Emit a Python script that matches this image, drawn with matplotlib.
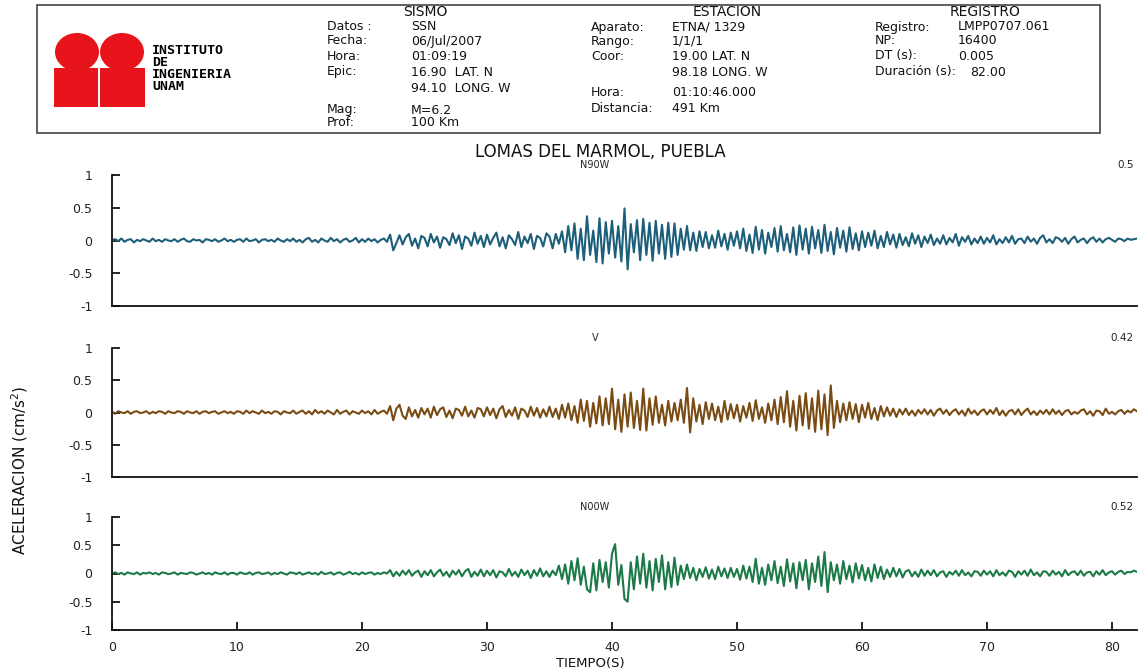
import numpy as np
import matplotlib.pyplot as plt
from matplotlib.patches import Rectangle, Ellipse

W, H = 1138, 670
fig = plt.figure(figsize=(W / 100, H / 100), dpi=100)
fig.patch.set_facecolor('white')
plt.rcParams['font.family'] = ['DejaVu Sans']

# --- data: acceleration every 0.25 s (cm/s2) ---
DT = 0.25
acc_n90w = [
    0.00, 0.02, -0.01, 0.03, -0.02, 0.01, 0.02, -0.03, 0.01, -0.01, 0.02, 0.00, -0.02, 0.03, -0.01, 0.01, -0.02, 0.02, 0.00, -0.01,
    0.02, -0.02, 0.01, 0.03, -0.01, -0.02, 0.02, 0.00, 0.01, -0.03, 0.02, 0.01, -0.01, 0.02, -0.02, 0.00, 0.03, -0.01, 0.01, -0.02,
    0.01, 0.02, -0.02, 0.03, -0.01, 0.00, 0.02, -0.03, 0.01, 0.02, -0.01, 0.01, -0.02, 0.03, 0.00, -0.02, 0.02, -0.01, 0.03, -0.02,
    0.01, -0.03, 0.02, 0.04, -0.02, 0.01, -0.03, 0.03, 0.00, -0.02, 0.04, -0.01, 0.02, -0.03, 0.01, 0.03, -0.02, 0.00, 0.04, -0.03,
    0.02, -0.02, 0.03, -0.01, 0.02, -0.03, 0.01, 0.03, -0.02, 0.09, -0.15, -0.04, 0.08, -0.06, 0.05, 0.10, -0.08, 0.03, -0.12, 0.07,
    0.04, -0.09, 0.10, -0.03, 0.06, -0.11, 0.05, 0.02, -0.07, 0.11, -0.04, 0.08, -0.13, 0.06, 0.03, -0.08, 0.12, -0.05, 0.07, -0.10,
    0.09, -0.06, 0.04, 0.12, -0.09, 0.05, -0.12, 0.08, 0.02, -0.07, 0.13, -0.10, 0.06, -0.04, 0.10, -0.13, 0.07, 0.04, -0.09, 0.11,
    0.06, -0.12, 0.10, -0.05, 0.14, -0.18, 0.22, -0.15, 0.26, -0.28, 0.18, -0.30, 0.37, -0.22, 0.15, -0.33, 0.34, -0.35, 0.28, -0.20,
    0.30, -0.26, 0.22, -0.32, 0.49, -0.44, 0.25, -0.18, 0.31, -0.30, 0.33, -0.22, 0.27, -0.31, 0.30, -0.20, 0.24, -0.28, 0.27, -0.25,
    0.26, -0.22, 0.18, -0.14, 0.22, -0.15, 0.12, -0.16, 0.14, -0.10, 0.13, -0.12, 0.08, -0.11, 0.15, -0.09, 0.10, -0.14, 0.12, -0.08,
    0.14, -0.12, 0.18, -0.16, 0.09, -0.19, 0.21, -0.14, 0.16, -0.20, 0.12, -0.10, 0.19, -0.17, 0.22, -0.15, 0.10, -0.18, 0.20, -0.22,
    0.23, -0.14, 0.18, -0.20, 0.21, -0.12, 0.16, -0.19, 0.24, -0.16, 0.13, -0.21, 0.19, -0.11, 0.15, -0.17, 0.20, -0.13, 0.11, -0.15,
    0.14, -0.10, 0.12, -0.08, 0.15, -0.12, 0.07, -0.10, 0.13, -0.06, 0.09, -0.11, 0.10, -0.07, 0.05, -0.09, 0.11, -0.05, 0.08, -0.10,
    0.06, -0.04, 0.09, -0.07, 0.03, -0.05, 0.08, -0.06, 0.04, -0.03, 0.10, -0.08, 0.05, -0.02, 0.07, -0.06, 0.03, -0.04, 0.06, -0.05,
    0.04, -0.03, 0.08, -0.06, 0.02, -0.04, 0.05, -0.03, 0.07, -0.05, 0.02, 0.03, -0.04, 0.06, -0.02, 0.03, -0.05, 0.04, 0.08, -0.03,
    0.02, -0.04, 0.05, 0.03, -0.02, 0.04, -0.05, 0.02, 0.06, -0.03, 0.01, 0.03, -0.04, 0.02, 0.05, -0.02, 0.03, -0.03, 0.02, 0.04,
    0.01, -0.02, 0.03, 0.02, -0.01, 0.03, 0.01, 0.02, 0.03,
]
acc_v = [
    0.01, -0.02, 0.02, 0.00, -0.01, 0.02, -0.02, 0.01, 0.02, -0.01, 0.00, 0.02, -0.02, 0.01, -0.01, 0.02, 0.01, -0.02, 0.02, 0.00,
    -0.01, 0.02, 0.01, -0.02, 0.02, 0.00, -0.01, 0.02, -0.02, 0.01, 0.02, -0.01, 0.01, 0.02, -0.02, 0.00, 0.02, -0.01, 0.01, -0.02,
    0.02, 0.01, -0.02, 0.03, -0.01, 0.02, 0.00, -0.02, 0.03, -0.01, 0.01, -0.02, 0.02, 0.01, -0.03, 0.02, 0.00, -0.01, 0.03, -0.02,
    0.01, 0.03, -0.02, 0.02, -0.03, 0.04, -0.01, 0.02, -0.02, 0.03, 0.00, -0.03, 0.04, -0.02, 0.01, 0.03, -0.03, 0.02, 0.00, -0.02,
    0.03, -0.01, 0.02, -0.03, 0.04, -0.02, 0.01, 0.03, -0.02, 0.10, -0.12, 0.06, 0.12, -0.05, -0.10, 0.08, -0.06, 0.04, -0.08, 0.07,
    -0.03, 0.06, -0.08, 0.09, -0.04, 0.05, 0.08, -0.07, 0.03, -0.09, 0.06, 0.04, -0.05, 0.09, -0.06, 0.03, -0.08, 0.07, 0.05, -0.06,
    0.08, -0.04, 0.06, -0.09, 0.05, 0.10, -0.07, 0.04, -0.05, 0.08, -0.10, 0.06, 0.03, -0.07, 0.09, -0.05, 0.07, -0.08, 0.05, -0.06,
    0.09, -0.07, 0.06, -0.10, 0.12, -0.08, 0.14, -0.12, 0.10, -0.16, 0.20, -0.13, 0.18, -0.22, 0.15, -0.17, 0.25, -0.20, 0.22, -0.18,
    0.37, -0.26, 0.20, -0.30, 0.28, -0.22, 0.31, -0.24, 0.18, -0.27, 0.37, -0.28, 0.22, -0.19, 0.25, -0.16, 0.12, -0.20, 0.18, -0.14,
    0.15, -0.12, 0.20, -0.16, 0.38, -0.31, 0.22, -0.14, 0.12, -0.18, 0.16, -0.10, 0.14, -0.12, 0.09, -0.15, 0.18, -0.11, 0.13, -0.09,
    0.12, -0.14, 0.10, -0.08, 0.15, -0.13, 0.19, -0.10, 0.08, -0.16, 0.14, -0.12, 0.20, -0.18, 0.24, -0.15, 0.33, -0.22, 0.18, -0.28,
    0.26, -0.20, 0.30, -0.25, 0.22, -0.30, 0.34, -0.26, 0.28, -0.35, 0.42, -0.24, 0.18, -0.15, 0.14, -0.12, 0.16, -0.10, 0.13, -0.15,
    0.12, -0.08, 0.15, -0.10, 0.07, -0.12, 0.10, -0.06, 0.08, -0.05, 0.06, -0.07, 0.05, -0.03, 0.06, -0.04, 0.03, -0.05, 0.04, -0.02,
    0.05, -0.03, 0.04, -0.05, 0.03, 0.06, -0.02, 0.04, -0.04, 0.02, 0.05, -0.03, 0.03, -0.05, 0.06, -0.02, 0.03, -0.04, 0.02, 0.05,
    -0.03, 0.04, -0.02, 0.07, -0.04, 0.03, -0.05, 0.02, 0.04, -0.03, 0.05, -0.04, 0.02, 0.06, -0.03, 0.02, -0.04, 0.03, -0.02, 0.04,
    -0.03, 0.05, -0.02, 0.03, -0.04, 0.02, 0.04, -0.03, 0.01, -0.02, 0.03, 0.05, -0.03, 0.02, -0.05, 0.03, 0.02, -0.04, 0.06, -0.02,
    0.01, -0.03, 0.02, 0.04, -0.02, 0.03, 0.00, 0.05, 0.02,
]
acc_n00w = [
    0.00, 0.02, -0.01, 0.01, -0.02, 0.02, 0.00, -0.01, 0.02, -0.02, 0.01, 0.00, 0.02, -0.01, 0.01, -0.02, 0.02, 0.01, -0.01, 0.00,
    0.02, -0.02, 0.01, 0.00, -0.01, 0.02, 0.01, -0.02, 0.00, 0.02, -0.01, 0.01, -0.02, 0.02, 0.00, -0.01, 0.02, -0.02, 0.01, 0.01,
    -0.02, 0.02, 0.00, -0.01, 0.02, -0.02, 0.01, 0.02, -0.01, 0.00, 0.02, -0.02, 0.01, -0.01, 0.02, 0.00, -0.02, 0.02, 0.01, -0.01,
    0.02, -0.02, 0.00, 0.02, -0.01, 0.01, -0.02, 0.03, -0.01, 0.00, 0.02, -0.02, 0.01, 0.02, -0.02, 0.00, 0.03, -0.01, 0.01, -0.02,
    0.02, -0.01, 0.01, 0.02, -0.02, 0.01, -0.01, 0.02, 0.00, 0.06, -0.05, 0.03, -0.04, 0.05, -0.02, 0.06, -0.04, 0.02, 0.05, -0.06,
    0.04, -0.03, 0.06, -0.05, 0.02, 0.07, -0.04, 0.03, -0.06, 0.05, -0.02, 0.06, -0.05, 0.04, 0.08, -0.06, 0.03, -0.04, 0.07, -0.05,
    0.05, -0.03, 0.06, -0.07, 0.04, 0.02, -0.05, 0.08, -0.04, 0.03, -0.06, 0.07, -0.03, 0.05, -0.08, 0.06, -0.04, 0.09, -0.05, 0.04,
    -0.06, 0.05, -0.03, 0.14, -0.10, 0.16, -0.18, 0.22, -0.12, 0.27, -0.20, 0.12, -0.28, -0.33, 0.18, -0.30, 0.24, -0.15, 0.20, -0.25,
    0.35, 0.52, -0.20, 0.15, -0.45, -0.50, 0.20, -0.28, 0.30, -0.18, 0.35, -0.25, 0.22, -0.30, 0.26, -0.15, 0.32, -0.28, 0.20, -0.24,
    0.28, -0.20, 0.14, -0.10, 0.16, -0.08, 0.10, -0.12, 0.08, -0.06, 0.11, -0.09, 0.07, -0.10, 0.12, -0.05, 0.09, -0.08, 0.10, -0.06,
    0.08, -0.11, 0.14, -0.09, 0.12, -0.15, 0.26, -0.18, 0.10, -0.20, 0.16, -0.12, 0.22, -0.17, 0.12, -0.22, 0.25, -0.14, 0.18, -0.26,
    0.20, -0.12, 0.24, -0.28, 0.18, -0.15, 0.30, -0.22, 0.38, -0.33, 0.20, -0.12, 0.16, -0.18, 0.22, -0.10, 0.14, -0.16, 0.18, -0.09,
    0.15, -0.12, 0.10, -0.14, 0.16, -0.08, 0.12, -0.10, 0.07, -0.06, 0.10, -0.05, 0.08, -0.07, 0.04, 0.06, -0.05, 0.03, -0.06, 0.07,
    -0.04, 0.05, -0.03, 0.06, -0.05, 0.02, 0.04, -0.06, 0.03, -0.02, 0.05, -0.04, 0.06, -0.03, 0.02, -0.05, 0.04, 0.03, -0.04, 0.05,
    -0.02, 0.04, -0.05, 0.06, -0.03, 0.02, -0.04, 0.05, 0.03, -0.06, 0.04, -0.02, 0.05, -0.04, 0.07, -0.03, 0.02, -0.05, 0.04, 0.03,
    -0.04, 0.05, -0.02, 0.03, -0.05, 0.06, -0.03, 0.02, 0.04, -0.03, 0.05, -0.04, 0.02, 0.03, -0.05, 0.04, -0.02, 0.06, -0.03, 0.02,
    0.04, -0.02, 0.03, 0.05, -0.01, 0.03, 0.02, 0.05, 0.03,
]
components = ['N90W', 'V', 'N00W']
peaks = ['0.5', '0.42', '0.52']
traces = [acc_n90w, acc_v, acc_n00w]
colors = ['#1d5f7a', '#7a4b12', '#1b7a47']
y_ticks = [-1, -0.5, 0, 0.5, 1]
y_labels = ['-1', '-0.5', '0', '0.5', '1']
x_ticks = [0, 10, 20, 30, 40, 50, 60, 70, 80]

# --- header / labels layer in pixel coordinates ---
bg = fig.add_axes([0, 0, 1, 1])
bg.set_xlim(0, W)
bg.set_ylim(H, 0)
bg.axis('off')

bg.add_patch(Rectangle((37, 5), 1063, 128, fill=False, ec='#444444', lw=1.2))
red = '#e8141b'
for cx in (77, 122):
    bg.add_patch(Ellipse((cx, 52), 44, 38, color=red, lw=0))
bg.add_patch(Rectangle((54, 68), 44, 39, color=red, lw=0))
bg.add_patch(Rectangle((100, 68), 45, 39, color=red, lw=0))
for txt, y in zip(['INSTITUTO', 'DE', 'INGENIERIA', 'UNAM'], [50, 62, 75, 87]):
    bg.text(152, y, txt, family='DejaVu Sans Mono', weight='bold', fontsize=9.5,
            va='center', ha='left', color='black')

ink = '#111111'
hdr = dict(fontsize=9, va='center', ha='left', color=ink)
bg.text(425, 12, 'SISMO', fontsize=10, ha='center', va='center', color=ink)
sismo = [('Datos :', 'SSN', 27), ('Fecha:', '06/Jul/2007', 41), ('Hora:', '01:09:19', 56),
         ('Epic:', '16.90  LAT. N', 72), ('', '94.10  LONG. W', 88),
         ('Mag:', 'M=6.2', 110), ('Prof:', '100 Km', 123)]
for lab, val, y in sismo:
    bg.text(327, y, lab, **hdr)
    bg.text(411, y, val, **hdr)

bg.text(727, 12, 'ESTACION', fontsize=10, ha='center', va='center', color=ink)
estacion = [('Aparato:', 'ETNA/ 1329', 27), ('Rango:', '1/1/1', 41), ('Coor:', '19.00 LAT. N', 56),
            ('', '98.18 LONG. W', 72), ('Hora:', '01:10:46.000', 92), ('Distancia:', '491 Km', 108)]
for lab, val, y in estacion:
    bg.text(591, y, lab, **hdr)
    bg.text(672, y, val, **hdr)

bg.text(985, 12, 'REGISTRO', fontsize=10, ha='center', va='center', color=ink)
registro = [('Registro:', 'LMPP0707.061', 958, 27), ('NP:', '16400', 958, 41),
            ('DT (s):', '0.005', 958, 56), ('Duración (s):', '82.00', 970, 72)]
for lab, val, xv, y in registro:
    bg.text(875, y, lab, **hdr)
    bg.text(xv, y, val, **hdr)

bg.text(600, 152, 'LOMAS DEL MARMOL, PUEBLA', fontsize=12, ha='center', va='center', color=ink)
bg.text(20, 470, 'ACELERACION (cm/s$^2$)', fontsize=11, rotation=90,
        ha='center', va='center', color=ink)
bg.text(590, 663, 'TIEMPO(S)', fontsize=9.5, ha='center', va='center', color=ink)

# --- the three traces ---
panels = [(175, 306), (348, 477), (517, 630)]
left_px, right_px = 112, 1137
t = np.arange(len(acc_n90w)) * DT

for i, (top, bot) in enumerate(panels):
    ax = fig.add_axes([left_px / W, 1 - bot / H, (right_px - left_px) / W, (bot - top) / H])
    ax.set_facecolor('none')
    ax.plot(t, traces[i], color=colors[i], lw=1.5)
    ax.set_xlim(0, 82)
    ax.set_ylim(-1, 1)
    for s in ('top', 'right'):
        ax.spines[s].set_visible(False)
    for s in ('left', 'bottom'):
        ax.spines[s].set_linewidth(1.3)
        ax.spines[s].set_color(ink)
    ax.set_yticks(y_ticks)
    ax.set_yticklabels(y_labels)
    ax.tick_params(axis='y', direction='in', length=6, width=1.2, pad=14,
                   labelsize=9, labelcolor='#222222')
    if i < 2:
        ax.set_xticks([])
    else:
        ax.set_xticks(x_ticks)
        ax.tick_params(axis='x', direction='in', length=6, width=1.2, pad=8,
                       labelsize=9, labelcolor='#222222')
    bg.text(595, top - 10, components[i], fontsize=7, ha='center', va='center', color='#222222')
    bg.text(1134, top - 10, peaks[i], fontsize=7.5, ha='right', va='center', color='#222222')

fig.savefig('out.png', dpi=100, facecolor='white')
